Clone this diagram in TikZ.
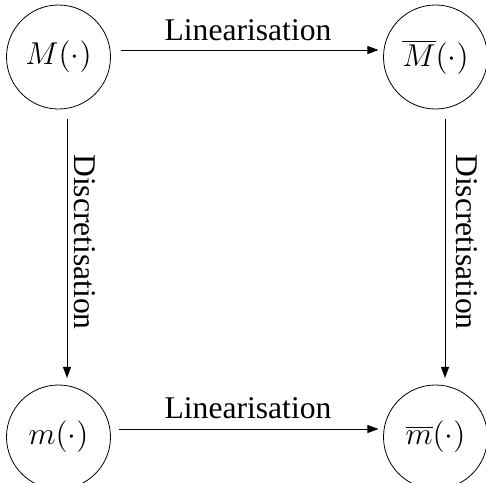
\documentclass[tikz,border=0pt]{standalone}
\usepackage{fontspec}
\setmainfont{Liberation Serif}
\usetikzlibrary{arrows.meta}
\begin{document}
\begin{tikzpicture}[x=1pt,y=1pt,
  state/.style={circle,draw,line width=0.8pt,scale=2.633,minimum size=39.5pt,inner sep=0pt,font=\fontsize{12}{14}\selectfont},
  conn/.style={line width=0.8pt,-{Triangle[length=11pt,width=8pt]}},
  lab/.style={scale=2.633,font=\fontsize{12}{14}\selectfont,inner sep=0pt}]
\useasboundingbox (0,0) rectangle (486,-482);
\node[state] (tl) at (58.5,-57) {$M(\cdot)$};
\node[state] (tr) at (435.5,-57) {$\overline{M}(\cdot)$};
\node[state] (bl) at (58.5,-437) {$m(\cdot)$};
\node[state] (br) at (435.5,-437) {$\overline{m}(\cdot)$};
\draw[conn] ([xshift=9pt,yshift=7pt]tl.east) -- ([xshift=-4pt,yshift=7pt]tr.west);
\draw[conn] ([xshift=7pt,yshift=8pt]bl.east) -- ([xshift=-4pt,yshift=8pt]br.west);
\draw[conn] ([xshift=8.5pt,yshift=-9pt]tl.south) -- ([xshift=8.5pt,yshift=6pt]bl.north);
\draw[conn] ([xshift=9.5pt,yshift=-9pt]tr.south) -- ([xshift=9.5pt,yshift=6pt]br.north);
\node[lab] (lt) at (248,-30) {Linearisation};
\node[lab] (lb) at (248,-408) {Linearisation};
\node[lab,rotate=-90] (dl) at (85,-242) {Discretisation};
\node[lab,rotate=-90] (dr) at (467,-242) {Discretisation};
\end{tikzpicture}
\end{document}
